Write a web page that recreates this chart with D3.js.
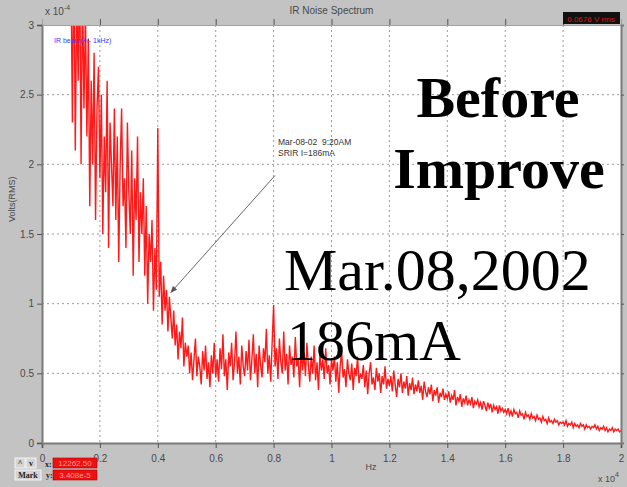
<!DOCTYPE html>
<html>
<head>
<meta charset="utf-8">
<script src="https://cdn.jsdelivr.net/npm/d3@7"></script>
<style>
  html, body { margin: 0; padding: 0; background: #c3c3c3; }
  svg { display: block; }
  .tick-lbl { font-family: Arial, "Liberation Sans", sans-serif; font-size: 10px; fill: #4a4a4a; }
  .grid line { stroke: #9a9a9a; stroke-dasharray: 2,3; stroke-width: 1; }
  .big-b { font-family: "Liberation Serif", "Times New Roman", serif; font-weight: bold; font-size: 58px; fill: #000; }
  .big-r { font-family: "Liberation Serif", "Times New Roman", serif; font-size: 58px; fill: #000; }
</style>
</head>
<body>
<div id="chart"></div>
<script>
// spectrum sampling (Hz) and amplitude, in units of 1e-4 V rms
const freqStart = 1000
const freqStep = 50
const noiseValues = [
  3.4, 2.3, 3.6, 2.1, 3.2, 2.6, 3.5, 2.0, 3.3, 2.4, 3.1,
  2.2, 2.9, 1.7, 2.6, 2.0, 2.8, 1.6, 2.4, 2.7, 1.9,
  2.5, 1.5, 2.2, 1.8, 2.6, 1.4, 2.3, 2.0, 1.7, 2.4,
  1.6, 2.2, 1.3, 2.0, 2.4, 1.7, 1.9, 1.4, 2.3, 1.8,
  1.5, 2.1, 1.2, 1.9, 1.6, 2.2, 1.3, 1.8, 1.5, 1.9,
  1.2, 1.7, 1.0, 1.5, 1.3, 1.6, 0.95, 1.4, 1.1, 2.26,
  1.05, 1.3, 0.85, 1.2, 0.95, 1.1, 0.8, 1.05, 0.9, 0.75,
  0.95, 0.7, 0.85, 0.6, 0.8, 0.68, 0.9, 0.55, 0.72, 0.62,
  0.7, 0.5, 0.65, 0.45, 0.6, 0.75, 0.48, 0.62, 0.55, 0.42, 0.66, 0.52, 0.7, 0.46, 0.58, 0.4, 0.63, 0.5, 0.72, 0.47,
  0.6, 0.44, 0.68, 0.53, 0.78, 0.48, 0.6, 0.38, 0.65, 0.55, 0.72, 0.45, 0.58, 0.8, 0.5, 0.62, 0.42, 0.7, 0.55, 0.48,
  0.66, 0.52, 0.74, 0.45, 0.6, 0.78, 0.5, 0.64, 0.4, 0.7, 0.56, 0.47, 0.68, 0.58, 0.82, 0.5, 0.63, 0.44, 0.72, 0.99,
  0.55, 0.68, 0.46, 0.75, 0.58, 0.5, 0.8, 0.52, 0.64, 0.42, 0.7, 0.56, 0.62, 0.47, 0.76, 0.55, 0.6, 0.4, 0.68, 0.52,
  0.65, 0.48, 0.72, 0.56, 0.44, 0.62, 0.5, 0.7, 0.45, 0.58, 0.38, 0.64, 0.52, 0.6, 0.46, 0.68, 0.5, 0.56, 0.42, 0.6,
  0.52, 0.62, 0.44, 0.58, 0.36, 0.55, 0.66, 0.47, 0.53, 0.4, 0.6, 0.5, 0.45, 0.57, 0.38, 0.54, 0.48, 0.62, 0.43, 0.5,
  0.46, 0.56, 0.4, 0.52, 0.35, 0.5, 0.58, 0.42, 0.47, 0.38, 0.54, 0.44, 0.5, 0.36, 0.48, 0.42, 0.55, 0.39, 0.46, 0.41,
  0.48, 0.37, 0.52, 0.42, 0.33, 0.46, 0.4, 0.5, 0.36, 0.44, 0.39, 0.48, 0.34, 0.43, 0.38, 0.47, 0.35, 0.42, 0.37, 0.45,
  0.36, 0.41, 0.31, 0.44, 0.37, 0.33, 0.4, 0.35, 0.42, 0.3, 0.38, 0.34, 0.4, 0.29, 0.36, 0.33, 0.39, 0.31, 0.35, 0.32,
  0.37, 0.29, 0.34, 0.31, 0.38, 0.27, 0.33, 0.3, 0.35, 0.26, 0.32, 0.29, 0.34, 0.27, 0.31, 0.28, 0.33, 0.25, 0.3, 0.28,
  0.31, 0.26, 0.29, 0.24, 0.3, 0.27, 0.23, 0.29, 0.25, 0.28, 0.22, 0.27, 0.24, 0.26, 0.21, 0.27, 0.23, 0.25, 0.22, 0.24,
  0.21, 0.25, 0.2, 0.23, 0.19, 0.24, 0.21, 0.22, 0.18, 0.23, 0.2, 0.21, 0.17, 0.22, 0.19, 0.2, 0.17, 0.21, 0.18, 0.19,
  0.16, 0.2, 0.17, 0.18, 0.15, 0.19, 0.16, 0.17, 0.14, 0.18, 0.15, 0.16, 0.14, 0.17, 0.15, 0.16, 0.13, 0.15, 0.14, 0.15,
  0.13, 0.16, 0.12, 0.14, 0.13, 0.15, 0.11, 0.14, 0.12, 0.13, 0.11, 0.14, 0.12, 0.13, 0.1, 0.13, 0.11, 0.12, 0.1, 0.12,
  0.11, 0.13, 0.1, 0.12, 0.09, 0.11, 0.1, 0.12, 0.09, 0.11, 0.08, 0.1, 0.09, 0.11, 0.08, 0.1, 0.09, 0.1, 0.08, 0.09
]

const xTicks = [0, 0.2, 0.4, 0.6, 0.8, 1, 1.2, 1.4, 1.6, 1.8, 2]   // x 10^4 Hz
const yTicks = [0, 0.5, 1, 1.5, 2, 2.5, 3]                          // x 10^-4 V

const W = 627, H = 487
const plot = { left: 42, right: 621, top: 25, bottom: 443 }

const svg = d3.select('#chart').append('svg')
  .attr('width', W).attr('height', H)

svg.append('rect').attr('width', W).attr('height', H).attr('fill', '#c3c3c3')

const x = d3.scaleLinear().domain([0, 2]).range([plot.left, plot.right])
const y = d3.scaleLinear().domain([0, 3]).range([plot.bottom, plot.top])

svg.append('rect')
  .attr('x', plot.left).attr('y', plot.top)
  .attr('width', plot.right - plot.left).attr('height', plot.bottom - plot.top)
  .attr('fill', '#fff')

// grid
svg.append('g').attr('class', 'grid')
  .selectAll('line').data(xTicks.slice(1, -1)).join('line')
  .attr('x1', d => x(d)).attr('x2', d => x(d))
  .attr('y1', plot.top).attr('y2', plot.bottom)
svg.append('g').attr('class', 'grid')
  .selectAll('line').data(yTicks.slice(1, -1)).join('line')
  .attr('x1', plot.left).attr('x2', plot.right)
  .attr('y1', d => y(d)).attr('y2', d => y(d))

// the spectrum
svg.append('clipPath').attr('id', 'clip')
  .append('rect')
  .attr('x', plot.left).attr('y', plot.top)
  .attr('width', plot.right - plot.left).attr('height', plot.bottom - plot.top)

const line = d3.line()
  .x((d, i) => x((freqStart + i * freqStep) / 1e4))
  .y(d => y(d))

svg.append('path')
  .datum(noiseValues)
  .attr('clip-path', 'url(#clip)')
  .attr('fill', 'none')
  .attr('stroke', '#ff0000')
  .attr('stroke-width', 1.4)
  .attr('stroke-opacity', 0.9)
  .attr('stroke-linejoin', 'miter')
  .attr('d', line)

// axes
const axisCol = '#7a7a7a'
svg.append('g')
  .attr('transform', `translate(0,${plot.bottom})`)
  .call(d3.axisBottom(x).tickValues(xTicks).tickSize(5).tickFormat(d3.format('')))
  .call(ax => ax.select('.domain').attr('stroke', axisCol).attr('stroke-width', 2))
  .call(ax => ax.selectAll('.tick line').attr('stroke', '#555'))
  .call(ax => ax.selectAll('text').attr('class', 'tick-lbl').attr('dy', '1.1em'))

svg.append('g')
  .attr('transform', `translate(${plot.left},0)`)
  .call(d3.axisLeft(y).tickValues(yTicks).tickSize(5).tickFormat(d3.format('')))
  .call(ax => ax.select('.domain').attr('stroke', axisCol).attr('stroke-width', 2))
  .call(ax => ax.selectAll('.tick line').attr('stroke', '#555'))
  .call(ax => ax.selectAll('text').attr('class', 'tick-lbl'))

svg.append('g')
  .attr('transform', `translate(0,${plot.top})`)
  .call(d3.axisTop(x).tickValues(xTicks.slice(1, -1)).tickSize(6).tickFormat(''))
  .call(ax => ax.select('.domain').attr('stroke', '#a0a0a0').attr('stroke-width', 1))
  .call(ax => ax.selectAll('.tick line').attr('stroke', '#555'))

svg.append('g')
  .attr('transform', `translate(${plot.right},0)`)
  .call(d3.axisRight(y).tickValues(yTicks.slice(1, -1)).tickSize(3).tickFormat(''))
  .call(ax => ax.select('.domain').attr('stroke', axisCol).attr('stroke-width', 2))
  .call(ax => ax.selectAll('.tick line').attr('stroke', '#555'))

// labels
svg.append('text').attr('class', 'tick-lbl')
  .attr('x', x(1)).attr('y', 14).attr('text-anchor', 'middle')
  .text('IR Noise Spectrum')

const exp = svg.append('text').attr('class', 'tick-lbl').attr('x', 45).attr('y', 15)
exp.append('tspan').text('x 10')
exp.append('tspan').attr('dy', -5).attr('font-size', 7).text('-4')

const exp2 = svg.append('text').attr('class', 'tick-lbl').attr('x', 598).attr('y', 482)
exp2.append('tspan').attr('font-size', 9).text('x 10')
exp2.append('tspan').attr('dy', -5).attr('font-size', 7).text('4')

svg.append('text').attr('class', 'tick-lbl')
  .attr('x', 371).attr('y', 470).attr('text-anchor', 'middle')
  .style('font-size', '9px').text('Hz')

svg.append('text').attr('class', 'tick-lbl')
  .attr('transform', `translate(15,${y(1.75)}) rotate(-90)`)
  .attr('text-anchor', 'middle').style('font-size', '9px')
  .text('Volts(RMS)')

svg.append('text')
  .attr('x', 54).attr('y', 43)
  .attr('font-family', 'Arial, sans-serif').attr('font-size', 7)
  .attr('fill', '#3a3aff')
  .text('IR beam(+/- 1kHz)')

// rms readout
svg.append('rect').attr('x', 563).attr('y', 12).attr('width', 57).attr('height', 12).attr('fill', '#111')
svg.append('text').attr('x', 591).attr('y', 21.5).attr('text-anchor', 'middle')
  .attr('font-family', 'Arial, sans-serif').attr('font-size', 8).attr('fill', '#e01010')
  .text('0.0676 V rms')

// cursor controls
const btn = svg.append('g').attr('font-family', '"Liberation Serif", serif').attr('font-size', 8).attr('font-weight', 'bold')
const buttons = [
  { x: 15, y: 458, w: 10, h: 10, t: '^' },
  { x: 26, y: 458, w: 10, h: 10, t: 'v' },
  { x: 15, y: 470, w: 26, h: 10, t: 'Mark' }
]
buttons.forEach(b => {
  btn.append('rect').attr('x', b.x).attr('y', b.y).attr('width', b.w).attr('height', b.h)
    .attr('fill', '#d4d4d4').attr('stroke', '#fff').attr('stroke-width', 0.8)
  btn.append('text').attr('x', b.x + b.w / 2).attr('y', b.y + b.h - 2)
    .attr('text-anchor', 'middle').attr('fill', '#222').text(b.t)
})
btn.append('text').attr('x', 45).attr('y', 466.5).attr('fill', '#222').text('x:')
btn.append('text').attr('x', 46).attr('y', 478).attr('fill', '#222').text('y:')
const readouts = [{ y: 458, t: '12262.50' }, { y: 470, t: '3.408e-5' }]
readouts.forEach(r => {
  svg.append('rect').attr('x', 53).attr('y', r.y).attr('width', 44).attr('height', 10)
    .attr('fill', '#ee1111').attr('stroke', '#a00').attr('stroke-width', 0.6)
  svg.append('text').attr('x', 75).attr('y', r.y + 8).attr('text-anchor', 'middle')
    .attr('font-family', 'Arial, sans-serif').attr('font-size', 8).attr('fill', '#ff9a9a')
    .text(r.t)
})

// annotation with arrow
const defs = svg.append('defs')
defs.append('marker').attr('id', 'arrow')
  .attr('viewBox', '0 0 10 10').attr('refX', 9).attr('refY', 5)
  .attr('markerWidth', 7).attr('markerHeight', 7).attr('orient', 'auto')
  .append('path').attr('d', 'M0,1 L10,5 L0,9 Z').attr('fill', '#555')

svg.append('line')
  .attr('x1', x(0.805)).attr('y1', y(1.92))
  .attr('x2', x(0.445)).attr('y2', y(1.08))
  .attr('stroke', '#666').attr('stroke-width', 1)
  .attr('marker-end', 'url(#arrow)')

svg.append('text').attr('x', 278).attr('y', 145)
  .attr('font-family', 'Arial, sans-serif').attr('font-size', 8.5).attr('fill', '#333')
  .attr('xml:space', 'preserve')
  .text('Mar-08-02  9:20AM')
svg.append('text').attr('x', 278).attr('y', 156)
  .attr('font-family', 'Arial, sans-serif').attr('font-size', 8.5).attr('fill', '#333')
  .text('SRIR I=186mA')

// slide overlay text
svg.append('text').attr('class', 'big-b').attr('x', 498).attr('y', 117).attr('text-anchor', 'middle').text('Before')
svg.append('text').attr('class', 'big-b').attr('x', 499).attr('y', 188).attr('text-anchor', 'middle').text('Improve')
svg.append('text').attr('class', 'big-r').attr('x', 284).attr('y', 290).style('font-size', '60px').text('Mar.08,2002')
svg.append('text').attr('class', 'big-r').attr('x', 287).attr('y', 360).text('186mA')
</script>
</body>
</html>
